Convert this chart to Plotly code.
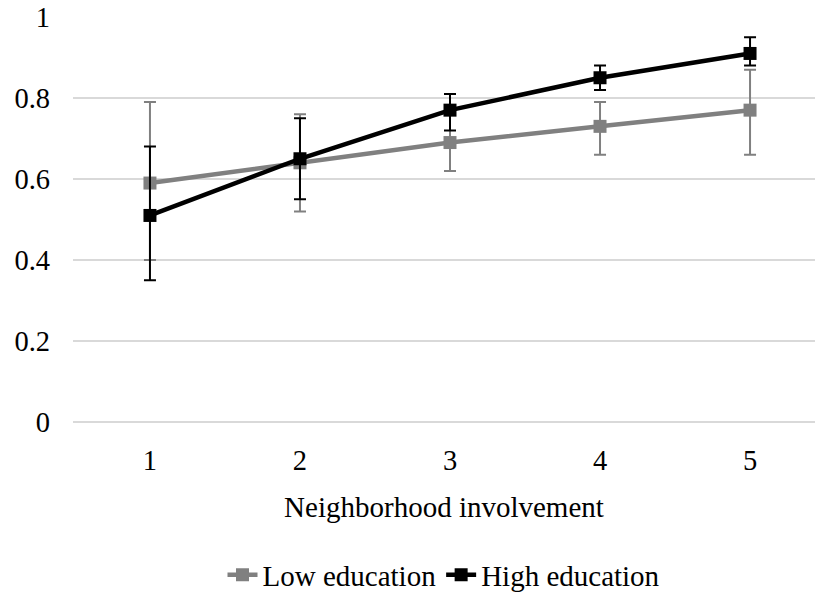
import plotly.graph_objects as go

x_vals = [1, 2, 3, 4, 5]
low_edu = [0.59, 0.64, 0.69, 0.73, 0.77]
low_plus = [0.20, 0.12, 0.07, 0.06, 0.10]
low_minus = [0.19, 0.12, 0.07, 0.07, 0.11]
high_edu = [0.51, 0.65, 0.77, 0.85, 0.91]
high_plus = [0.17, 0.10, 0.04, 0.03, 0.04]
high_minus = [0.16, 0.10, 0.05, 0.03, 0.03]
y_ticks = [0, 0.2, 0.4, 0.6, 0.8, 1]
y_tick_text = ["0", "0.2", "0.4", "0.6", "0.8", "1"]

FONT = "Liberation Serif, Times New Roman, serif"
FS_TICK = 28.5
FS_TEXT = 29

fig = go.Figure()
fig.add_trace(go.Scatter(
    x=x_vals, y=low_edu, name="Low education", mode="lines+markers",
    line=dict(color="#808080", width=4.5),
    marker=dict(symbol="square", size=13, color="#808080"),
    error_y=dict(type="data", array=low_plus, arrayminus=low_minus, symmetric=False,
                 color="#808080", thickness=2, width=6),
))
fig.add_trace(go.Scatter(
    x=x_vals, y=high_edu, name="High education", mode="lines+markers",
    line=dict(color="#000000", width=4.5),
    marker=dict(symbol="square", size=13, color="#000000"),
    error_y=dict(type="data", array=high_plus, arrayminus=high_minus, symmetric=False,
                 color="#000000", thickness=2, width=6),
))

fig.update_layout(
    width=815, height=596,
    margin=dict(l=73, r=0, t=17, b=174, autoexpand=False),
    paper_bgcolor="white", plot_bgcolor="white",
    font=dict(family=FONT, size=FS_TEXT, color="#000000"),
    showlegend=True,
    legend=dict(orientation="h", x=0.5, xanchor="center", y=-0.3778, yanchor="middle",
                font=dict(family=FONT, size=FS_TEXT), itemwidth=30, tracegroupgap=0),
    xaxis=dict(range=[0.487, 5.433], tickvals=x_vals, ticktext=[str(v) for v in x_vals],
               showgrid=False, zeroline=False, showline=False, ticks="",
               ticklabelstandoff=18, automargin=False,
               tickfont=dict(family=FONT, size=FS_TICK),
               title=dict(text="Neighborhood involvement", font=dict(family=FONT, size=FS_TEXT), standoff=22)),
    yaxis=dict(range=[0, 1], tickvals=y_ticks, ticktext=y_tick_text,
               showgrid=True, gridcolor="#d9d9d9", gridwidth=1.5,
               zeroline=True, zerolinecolor="#d9d9d9", zerolinewidth=1.5,
               showline=False, ticks="", ticklen=0, automargin=False,
               ticklabelstandoff=22,
               tickfont=dict(family=FONT, size=FS_TICK)),
)

fig.write_html("out.html", config={"displayModeBar": False},
               post_script="document.body.style.margin='0';document.body.style.overflow='hidden';")
